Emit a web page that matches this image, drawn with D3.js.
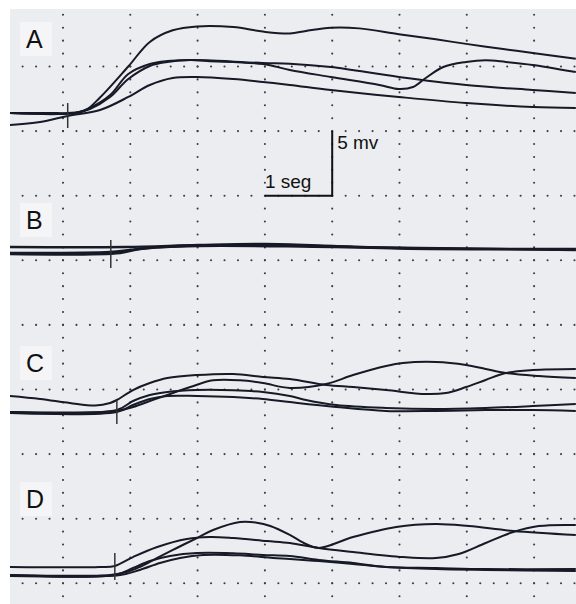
<!DOCTYPE html>
<html>
<head>
<meta charset="utf-8">
<script src="https://cdn.jsdelivr.net/npm/d3@7"></script>
<style>
  html, body { margin: 0; padding: 0; background: #fff; }
  svg { display: block; }
</style>
</head>
<body>
<script>
// channel names and stimulus marks (s)
const channels = ["A", "B", "C", "D"];
const stimTimes = [0.07, 0.71, 0.80, 0.77];

// traces: time (s) / amplitude (mV) from channel baseline
const tA1 = [-0.79, -0.19, 0.07, 0.33, 0.55, 0.97, 1.29, 1.63, 1.99, 2.53, 2.97, 3.37, 3.61, 3.98, 4.40, 4.99, 5.54, 5.99, 6.54, 6.98, 7.62];
const vA1 = [0, 0, 0, 0.2, 1.2, 3.6, 5.5, 6.4, 6.7, 6.65, 6.3, 6.15, 6.35, 6.6, 6.55, 6.1, 5.7, 5.35, 4.95, 4.65, 4.2];
const tA2 = [-0.79, 0.18, 0.40, 0.70, 0.97, 1.29, 1.55, 1.89, 2.14, 2.97, 3.37, 3.98, 4.99, 5.99, 6.98, 7.62];
const vA2 = [0, 0, 0.39, 1.39, 3.02, 3.79, 4.02, 4.10, 4.08, 3.87, 3.82, 3.56, 2.79, 2.17, 1.78, 1.55];
const tA3 = [-0.79, 0.18, 0.40, 0.70, 0.97, 1.29, 1.55, 1.89, 2.14, 2.97, 3.37, 3.98, 4.70, 4.99, 5.20, 5.39, 5.65, 5.99, 6.28, 6.58, 6.98, 7.62];
const vA3 = [0, 0, 0.31, 1.24, 2.63, 3.64, 3.95, 4.10, 4.02, 3.79, 3.33, 2.79, 2.17, 1.86, 2.01, 2.71, 3.56, 3.95, 4.08, 3.95, 3.72, 3.17];
const tA4 = [-0.79, -0.34, 0.07, 0.55, 0.97, 1.29, 1.63, 1.99, 2.53, 2.97, 3.37, 3.98, 4.99, 5.99, 6.98, 7.62];
const vA4 = [-0.93, -0.70, -0.23, 0.23, 1.24, 2.17, 2.71, 2.79, 2.63, 2.40, 2.17, 1.78, 1.24, 0.77, 0.46, 0.39];

const tB1 = [-0.79, 0.92, 2.01, 3.00, 4.01, 5.01, 7.62];
const vB1 = [0, 0, 0.15, 0.23, 0.08, -0.08, -0.15];
const tB2 = [-0.79, 0.70, 1.00, 1.44, 2.01, 3.00, 4.01, 5.01, 7.62];
const vB2 = [-0.46, -0.39, -0.23, 0, 0.12, 0.15, 0.04, -0.12, -0.19];
const tB3 = [-0.79, 0.85, 1.14, 2.01, 4.01, 7.62];
const vB3 = [-0.54, -0.46, -0.15, 0.08, 0, -0.23];

const tC1 = [-0.79, -0.34, 0.10, 0.48, 0.70, 0.80, 1.04, 1.29, 1.55, 1.99, 2.53, 2.97, 3.37, 3.91, 4.31, 4.80, 5.39, 5.69, 5.99, 6.28, 6.58, 6.98, 7.62];
const vC1 = [1.24, 1.01, 0.70, 0.50, 0.70, 0.93, 1.70, 2.24, 2.63, 2.86, 2.94, 2.71, 2.55, 2.09, 1.93, 1.70, 1.39, 1.47, 1.93, 2.48, 3.02, 3.25, 3.33];
const tC2 = [-0.79, 0.80, 1.04, 1.29, 1.55, 1.89, 2.23, 2.63, 2.97, 3.37, 3.91, 4.31, 4.80, 5.05, 5.54, 5.99, 6.28, 6.58, 7.07, 7.62];
const vC2 = [0, 0.08, 0.39, 0.85, 1.32, 1.93, 2.45, 2.45, 2.24, 1.86, 2.17, 2.86, 3.56, 3.79, 3.87, 3.64, 3.33, 3.02, 2.79, 2.63];
const tC3 = [-0.79, 0.80, 1.04, 1.29, 1.55, 1.99, 2.53, 2.97, 3.37, 3.61, 4.06, 4.80, 5.54, 6.28, 6.98, 7.62];
const vC3 = [0, 0.15, 0.85, 1.32, 1.55, 1.70, 1.68, 1.55, 1.24, 0.93, 0.54, 0.31, 0.23, 0.31, 0.46, 0.62];
const tC4 = [-0.79, 0.80, 1.04, 1.29, 1.55, 1.99, 2.53, 2.97, 3.37, 4.06, 4.80, 5.54, 6.28, 6.98, 7.62];
const vC4 = [-0.08, 0, 0.54, 1.01, 1.24, 1.24, 1.16, 1.01, 0.77, 0.39, 0.08, 0.08, 0.15, 0.15, 0.08];

const tD1 = [-0.79, 0.55, 0.77, 1.04, 1.40, 1.84, 2.18, 2.53, 3.03, 3.37, 3.80, 4.31, 5.05, 5.54, 5.88, 6.28, 6.69, 7.07, 7.62];
const vD1 = [0.62, 0.62, 0.70, 1.39, 2.17, 2.79, 2.94, 2.86, 2.63, 2.48, 2.09, 1.78, 1.39, 1.32, 1.63, 2.48, 3.33, 3.79, 3.87];
const tD2 = [-0.79, 0.70, 0.95, 1.14, 1.40, 1.69, 1.99, 2.23, 2.63, 2.88, 3.08, 3.37, 3.61, 3.80, 4.31, 4.95, 5.54, 6.03, 6.69, 7.62];
const vD2 = [0, 0, 0.23, 0.62, 1.32, 2.09, 2.86, 3.48, 4.10, 4.05, 3.79, 3.10, 2.40, 2.09, 2.94, 3.72, 3.95, 3.79, 3.41, 3.10];
const tD3 = [-0.79, 0.77, 1.04, 1.29, 1.59, 1.99, 2.53, 2.97, 3.37, 3.80, 4.31, 4.80, 5.54, 6.28, 7.62];
const vD3 = [0, 0, 0.54, 1.08, 1.47, 1.70, 1.68, 1.55, 1.47, 1.16, 0.93, 0.62, 0.54, 0.46, 0.46];
const tD4 = [-0.79, 0.85, 1.14, 1.44, 1.74, 2.08, 2.63, 3.12, 3.37, 3.80, 4.31, 4.80, 5.54, 6.28, 7.62];
const vD4 = [-0.08, 0, 0.39, 0.93, 1.32, 1.55, 1.52, 1.32, 1.24, 1.08, 0.85, 0.62, 0.46, 0.39, 0.31];

// scale bar: 1 s x 5 mV
const barTime = [3, 4];
const barVolt = 5;

const traces = [
  [[tA1, vA1], [tA2, vA2], [tA3, vA3], [tA4, vA4]],
  [[tB1, vB1], [tB2, vB2], [tB3, vB3]],
  [[tC1, vC1], [tC2, vC2], [tC3, vC3], [tC4, vC4]],
  [[tD1, vD1], [tD2, vD2], [tD3, vD3], [tD4, vD4]]
];

// layout
const width = 576, height = 604;
const paper = { left: 10, top: 9 };
const secPx = 67.3, gridPx = 64.6; // 1 s, 5 mV
const baselines = [113, 247, 412, 575];
const labelY = [48, 229, 372, 508];
const tickSpan = [[0.77, -1.16], [0.54, -1.63], [0.93, -0.93], [1.70, -0.39]];

const x = d3.scaleLinear().domain([0, 1]).range([63, 63 + secPx]);
const rows = d3.scaleLinear().domain([0, 1]).range([66.5, 66.5 + gridPx]);
const yScale = base => d3.scaleLinear().domain([0, barVolt]).range([base, base - gridPx]);

const svg = d3.create("svg")
  .attr("width", width)
  .attr("height", height)
  .attr("viewBox", [0, 0, width, height]);

svg.append("rect").attr("width", width).attr("height", height).attr("fill", "#fff");
svg.append("rect")
  .attr("x", paper.left).attr("y", paper.top)
  .attr("width", width - paper.left).attr("height", height - paper.top)
  .attr("fill", "#ecedf0");

svg.append("clipPath").attr("id", "clip")
  .append("rect")
  .attr("x", paper.left).attr("y", paper.top)
  .attr("width", width - paper.left).attr("height", height - paper.top);

// dotted grid
const tMin = x.invert(paper.left), tMax = x.invert(width);
const rMin = rows.invert(paper.top), rMax = rows.invert(height);
const gridT = d3.range(Math.ceil(tMin), Math.floor(tMax) + 1);
const gridR = d3.range(Math.ceil(rMin), Math.floor(rMax) + 1);
const dotsH = d3.range(Math.ceil(tMin * 5), Math.floor(tMax * 5) + 1).map(k => k / 5);
const dotsV = d3.range(Math.ceil(rMin * 5), Math.floor(rMax * 5) + 1).map(k => k / 5);

const dots = [];
gridR.forEach(r => dotsH.forEach(t => dots.push([x(t), rows(r)])));
gridT.forEach(t => dotsV.forEach(r => dots.push([x(t), rows(r)])));

svg.append("g")
  .attr("fill", "#3c3c44")
  .selectAll("circle")
  .data(dots)
  .join("circle")
  .attr("cx", d => d[0])
  .attr("cy", d => d[1])
  .attr("r", 1.05);

// scale bar
const yBar = d3.scaleLinear().domain([0, barVolt]).range([rows(2), rows(1)]);
svg.append("path")
  .attr("fill", "none")
  .attr("stroke", "#111")
  .attr("stroke-width", 2)
  .attr("d", d3.line()([[x(barTime[0]), yBar(0)], [x(barTime[1]), yBar(0)], [x(barTime[1]), yBar(barVolt)]]));

svg.append("text")
  .attr("x", x(barTime[0])).attr("y", yBar(0) - 8)
  .attr("font-family", "'Liberation Sans', Arial, sans-serif")
  .attr("font-size", 19).attr("fill", "#111")
  .text("1 seg");
svg.append("text")
  .attr("x", x(barTime[1]) + 5).attr("y", yBar(barVolt) + 18)
  .attr("font-family", "'Liberation Sans', Arial, sans-serif")
  .attr("font-size", 19).attr("fill", "#111")
  .text("5 mv");

// traces
const plot = svg.append("g").attr("clip-path", "url(#clip)");

channels.forEach((name, i) => {
  const y = yScale(baselines[i]);
  const line = d3.line()
    .x(d => x(d[0]))
    .y(d => y(d[1]))
    .curve(d3.curveCatmullRom.alpha(0.5));

  // label with light patch
  plot.append("rect")
    .attr("x", 20).attr("y", labelY[i] - 26)
    .attr("width", 32).attr("height", 34)
    .attr("fill", "#f5f5f7");
  plot.append("text")
    .attr("x", 26).attr("y", labelY[i])
    .attr("font-family", "'Liberation Sans', Arial, sans-serif")
    .attr("font-size", 25).attr("fill", "#111")
    .text(name);

  plot.append("g")
    .attr("fill", "none")
    .attr("stroke", "#161a26")
    .attr("stroke-width", i === 1 ? 2.4 : 2)
    .attr("stroke-linejoin", "round")
    .selectAll("path")
    .data(traces[i])
    .join("path")
    .attr("d", ([t, v]) => line(t.map((tt, k) => [tt, v[k]])));

  // stimulus mark
  plot.append("line")
    .attr("x1", x(stimTimes[i])).attr("x2", x(stimTimes[i]))
    .attr("y1", y(tickSpan[i][0])).attr("y2", y(tickSpan[i][1]))
    .attr("stroke", "#333")
    .attr("stroke-width", 1.5);
});

d3.select("body").append(() => svg.node());
</script>
</body>
</html>
